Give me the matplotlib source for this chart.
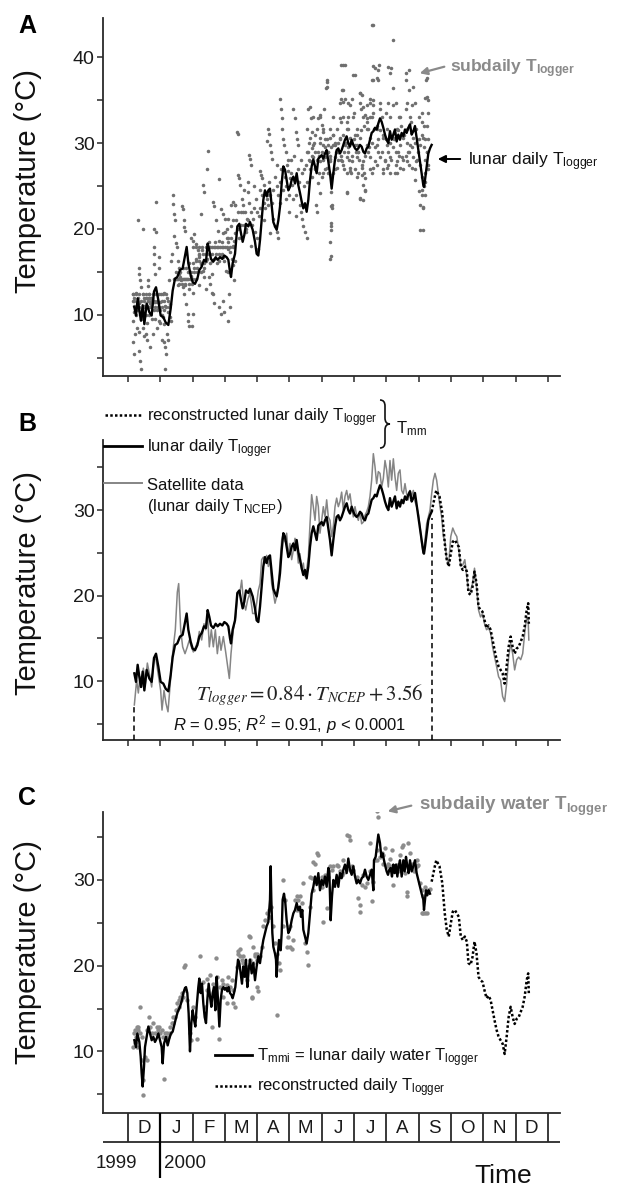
import matplotlib
matplotlib.use('Agg')
import matplotlib.pyplot as plt
from matplotlib.lines import Line2D
from matplotlib.path import Path
from matplotlib.patches import PathPatch, FancyArrowPatch

plt.rcParams['font.family'] = ['Liberation Sans', 'DejaVu Sans']
plt.rcParams['mathtext.fontset'] = 'custom'
plt.rcParams['mathtext.rm'] = 'Liberation Sans'
plt.rcParams['mathtext.it'] = 'Liberation Sans:italic'
plt.rcParams['mathtext.bf'] = 'Liberation Sans:bold'

# ---------------- data (x in months since 1 Dec 1999) ----------------
month_labels = ['D', 'J', 'F', 'M', 'A', 'M', 'J', 'J', 'A', 'S', 'O', 'N', 'D']
year_labels = ['1999', '2000']

logger_month = [0.196, 0.248, 0.299, 0.351, 0.402, 0.454, 0.506, 0.578, 0.660, 0.733, 0.805, 0.867,
                0.939, 1.011, 1.094, 1.166, 1.249, 1.321, 1.383, 1.455, 1.527, 1.610, 1.692, 1.765,
                1.816, 1.868, 1.940, 2.002, 2.074, 2.147, 2.208, 2.281, 2.353, 2.415, 2.466, 2.518,
                2.570, 2.642, 2.714, 2.776, 2.848, 2.921, 2.982, 3.055, 3.106, 3.158, 3.189, 3.240,
                3.313, 3.385, 3.447, 3.498, 3.550, 3.602, 3.653, 3.726, 3.777, 3.860, 3.932, 3.983,
                4.035, 4.087, 4.138, 4.190, 4.241, 4.293, 4.345, 4.396, 4.448, 4.500, 4.551, 4.603,
                4.655, 4.706, 4.758, 4.809, 4.861, 4.912, 4.964, 5.015, 5.067, 5.119, 5.170, 5.222,
                5.273, 5.325, 5.377, 5.428, 5.480, 5.531, 5.583, 5.635, 5.686, 5.738, 5.790, 5.841,
                5.893, 5.944, 5.996, 6.047, 6.099, 6.151, 6.202, 6.254, 6.305, 6.357, 6.409, 6.460,
                6.512, 6.563, 6.615, 6.667, 6.718, 6.770, 6.821, 6.873, 6.925, 6.976, 7.028, 7.079,
                7.131, 7.183, 7.234, 7.286, 7.337, 7.389, 7.441, 7.492, 7.544, 7.596, 7.647, 7.699,
                7.750, 7.802, 7.853, 7.905, 7.957, 8.008, 8.060, 8.111, 8.163, 8.215, 8.266, 8.318,
                8.369, 8.421, 8.473, 8.524, 8.576, 8.627, 8.679, 8.731, 8.782, 8.834, 8.885, 8.937,
                8.988, 9.040, 9.092, 9.143, 9.164, 9.195, 9.247, 9.298, 9.350, 9.401]
logger_temp = [10.9, 9.9, 11.9, 10.5, 9.3, 11.1, 8.9, 11.3, 10.3, 9.9, 12.7, 13.2,
               11.7, 9.9, 9.7, 9.1, 8.8, 10.7, 12.8, 14.2, 14.4, 15.2, 15.4, 16.9,
               17.9, 16.0, 14.6, 13.8, 13.6, 14.2, 15.2, 15.6, 16.4, 16.2, 18.3, 17.5,
               16.5, 16.2, 16.7, 16.4, 16.7, 16.5, 16.9, 16.7, 16.4, 15.0, 14.4, 16.0,
               17.1, 20.3, 20.6, 19.5, 18.5, 19.3, 20.6, 20.3, 20.8, 19.9, 18.5, 17.1,
               16.9, 18.7, 21.0, 23.4, 24.5, 23.8, 24.5, 24.7, 22.8, 20.8, 20.3, 19.9,
               21.0, 22.6, 25.3, 27.3, 26.9, 25.7, 24.5, 24.9, 25.7, 26.1, 25.3, 26.5,
               25.1, 24.2, 23.2, 22.4, 23.0, 22.0, 23.4, 25.7, 27.3, 28.1, 27.3, 26.5,
               28.2, 28.4, 28.6, 28.2, 28.8, 29.2, 27.9, 26.5, 24.7, 26.5, 28.1, 29.2,
               29.4, 28.8, 29.2, 29.8, 30.4, 30.8, 30.0, 29.6, 30.4, 29.8, 29.4, 29.2,
               29.4, 29.8, 29.6, 29.0, 28.8, 29.4, 29.6, 30.4, 31.2, 31.4, 31.8, 31.6,
               32.3, 32.9, 32.5, 31.8, 31.0, 30.4, 30.0, 31.4, 30.4, 31.0, 31.6, 30.2,
               31.0, 30.4, 31.2, 30.8, 31.6, 31.2, 31.8, 32.2, 31.0, 31.4, 32.0, 30.6,
               29.2, 27.9, 26.5, 25.1, 24.9, 25.7, 27.3, 28.8, 29.4, 29.8]

ncep_month = [0.196, 0.237, 0.268, 0.320, 0.372, 0.423, 0.475, 0.537, 0.599, 0.660, 0.733, 0.805,
              0.867, 0.939, 1.011, 1.053, 1.115, 1.176, 1.238, 1.300, 1.352, 1.404, 1.465, 1.527,
              1.569, 1.631, 1.692, 1.765, 1.837, 1.899, 1.961, 2.023, 2.095, 2.157, 2.208, 2.281,
              2.353, 2.405, 2.466, 2.518, 2.580, 2.642, 2.704, 2.766, 2.828, 2.879, 2.952, 3.024,
              3.086, 3.137, 3.189, 3.261, 3.333, 3.395, 3.467, 3.519, 3.571, 3.643, 3.705, 3.777,
              3.860, 3.932, 3.983, 4.035, 4.087, 4.138, 4.190, 4.241, 4.293, 4.345, 4.396, 4.448,
              4.500, 4.551, 4.603, 4.655, 4.706, 4.758, 4.809, 4.861, 4.912, 4.964, 5.015, 5.067,
              5.119, 5.170, 5.222, 5.273, 5.325, 5.377, 5.428, 5.480, 5.531, 5.583, 5.635, 5.686,
              5.738, 5.790, 5.841, 5.893, 5.944, 5.996, 6.047, 6.099, 6.151, 6.202, 6.254, 6.305,
              6.357, 6.409, 6.460, 6.512, 6.563, 6.615, 6.667, 6.718, 6.770, 6.821, 6.873, 6.925,
              6.976, 7.028, 7.079, 7.131, 7.183, 7.234, 7.286, 7.337, 7.389, 7.441, 7.492, 7.544,
              7.596, 7.647, 7.699, 7.750, 7.802, 7.853, 7.905, 7.957, 8.008, 8.060, 8.111, 8.163,
              8.215, 8.266, 8.318, 8.369, 8.421, 8.473, 8.524, 8.576, 8.627, 8.679, 8.731, 8.782,
              8.834, 8.885, 8.937, 8.988, 9.040, 9.092, 9.143, 9.195, 9.247, 9.298, 9.350, 9.401,
              9.453, 9.505, 9.556, 9.608, 9.659, 9.711, 9.763, 9.807, 9.869, 9.931, 9.993, 10.055,
              10.118, 10.180, 10.242, 10.304, 10.366, 10.428, 10.491, 10.541, 10.606, 10.666, 10.728, 10.791,
              10.853, 10.915, 10.977, 11.039, 11.101, 11.164, 11.226, 11.288, 11.350, 11.412, 11.474, 11.536,
              11.598, 11.661, 11.723, 11.785, 11.847, 11.909, 11.971, 12.034, 12.096, 12.158, 12.220, 12.282,
              12.344, 12.390, 12.410]
ncep_temp = [7.2, 8.9, 10.1, 8.6, 10.5, 9.3, 11.5, 9.7, 12.1, 10.9, 9.3, 12.7,
             12.5, 10.7, 8.9, 6.6, 8.9, 7.4, 6.4, 9.3, 12.1, 14.0, 16.0, 20.4,
             21.4, 16.0, 14.0, 13.2, 14.0, 14.8, 14.0, 13.4, 14.0, 14.6, 15.8, 14.8,
             16.7, 16.0, 17.7, 14.0, 16.0, 14.0, 16.0, 13.2, 15.2, 13.6, 15.2, 13.4,
             11.7, 10.3, 13.2, 16.0, 17.5, 20.3, 20.4, 21.8, 19.5, 18.3, 19.5, 20.3,
             17.9, 17.9, 19.1, 20.6, 21.4, 24.2, 24.5, 23.8, 24.7, 23.4, 24.2, 21.4,
             20.3, 19.1, 19.9, 21.4, 23.8, 26.5, 27.3, 26.3, 27.3, 24.5, 26.1, 24.2,
             25.3, 26.7, 26.1, 23.8, 24.9, 23.0, 23.8, 22.2, 23.0, 24.5, 28.4, 31.8,
             30.4, 28.8, 31.6, 30.4, 27.3, 28.8, 30.4, 29.2, 31.2, 29.2, 28.8, 26.9,
             28.1, 30.4, 31.4, 30.4, 31.0, 32.1, 30.0, 31.6, 32.3, 31.2, 31.9, 30.4,
             29.2, 30.4, 29.4, 28.8, 29.8, 28.4, 28.6, 29.4, 29.8, 30.4, 31.6, 33.5,
             36.6, 35.1, 33.1, 34.5, 34.3, 32.7, 33.7, 35.8, 34.7, 32.7, 35.8, 33.5,
             36.0, 33.9, 32.3, 34.3, 34.7, 32.3, 31.9, 33.1, 31.9, 31.2, 32.3, 31.6,
             32.3, 31.0, 30.4, 29.6, 28.1, 26.1, 24.9, 26.5, 28.4, 29.2, 30.0, 31.9,
             33.5, 34.3, 33.5, 31.9, 30.4, 29.2, 26.9, 26.5, 24.2, 23.8, 26.9, 27.9,
             27.3, 26.9, 25.3, 23.4, 23.6, 24.2, 22.2, 20.6, 20.6, 21.4, 23.2, 21.0,
             18.3, 17.5, 17.9, 16.7, 16.0, 16.2, 15.6, 14.0, 12.8, 11.7, 10.5, 10.1,
             8.2, 7.6, 9.7, 12.8, 14.4, 13.2, 11.3, 12.5, 12.8, 12.5, 13.2, 15.6,
             17.5, 17.1, 14.8]

recon_month = [9.401, 9.500, 9.545, 9.644, 9.731, 9.807, 9.869, 9.931, 9.993, 10.055, 10.118, 10.180,
               10.242, 10.304, 10.366, 10.428, 10.491, 10.541, 10.606, 10.666, 10.728, 10.791, 10.853, 10.915,
               10.977, 11.039, 11.101, 11.164, 11.226, 11.288, 11.350, 11.412, 11.474, 11.536, 11.598, 11.661,
               11.723, 11.785, 11.847, 11.909, 11.971, 12.034, 12.096, 12.158, 12.220, 12.282, 12.344, 12.390,
               12.410]
recon_temp = [29.8, 31.6, 32.3, 31.6, 29.6, 26.1, 24.2, 23.4, 24.9, 26.3, 26.5, 26.1,
              25.7, 23.4, 23.0, 23.4, 22.8, 20.3, 20.1, 21.0, 22.8, 21.4, 18.7, 18.3,
              18.1, 17.1, 16.2, 16.5, 16.0, 14.8, 13.6, 12.5, 11.7, 11.3, 10.9, 9.7,
              11.7, 14.0, 15.2, 14.0, 13.2, 13.8, 14.0, 14.6, 15.2, 16.4, 18.3, 19.1,
              16.7]

water_month = [0.196, 0.248, 0.289, 0.351, 0.392, 0.423, 0.454, 0.495, 0.526, 0.578, 0.630, 0.681,
               0.733, 0.784, 0.836, 0.888, 0.939, 0.991, 1.042, 1.073, 1.115, 1.176, 1.228, 1.280,
               1.331, 1.383, 1.434, 1.486, 1.538, 1.610, 1.672, 1.713, 1.765, 1.796, 1.837, 1.878,
               1.899, 1.919, 1.961, 2.002, 2.043, 2.085, 2.126, 2.177, 2.208, 2.250, 2.291, 2.332,
               2.374, 2.415, 2.456, 2.497, 2.539, 2.580, 2.621, 2.663, 2.704, 2.745, 2.786, 2.828,
               2.869, 2.910, 2.952, 2.993, 3.034, 3.075, 3.117, 3.158, 3.199, 3.240, 3.282, 3.323,
               3.364, 3.406, 3.447, 3.488, 3.529, 3.571, 3.612, 3.653, 3.694, 3.736, 3.777, 3.829,
               3.880, 3.932, 3.983, 4.035, 4.087, 4.138, 4.190, 4.241, 4.293, 4.345, 4.396, 4.417,
               4.438, 4.469, 4.500, 4.551, 4.582, 4.603, 4.634, 4.675, 4.727, 4.758, 4.788, 4.830,
               4.871, 4.912, 4.964, 5.015, 5.067, 5.119, 5.170, 5.222, 5.273, 5.325, 5.356, 5.397,
               5.428, 5.480, 5.531, 5.583, 5.635, 5.686, 5.738, 5.790, 5.841, 5.893, 5.944, 5.996,
               6.047, 6.099, 6.151, 6.202, 6.233, 6.274, 6.316, 6.357, 6.409, 6.460, 6.512, 6.563,
               6.615, 6.667, 6.718, 6.770, 6.821, 6.873, 6.925, 6.976, 7.028, 7.079, 7.131, 7.183,
               7.234, 7.286, 7.337, 7.389, 7.441, 7.492, 7.544, 7.596, 7.616, 7.668, 7.719, 7.750,
               7.802, 7.843, 7.884, 7.926, 7.967, 8.008, 8.050, 8.091, 8.132, 8.173, 8.215, 8.256,
               8.297, 8.339, 8.380, 8.421, 8.473, 8.524, 8.566, 8.607, 8.648, 8.689, 8.731, 8.782,
               8.834, 8.885, 8.937, 8.988, 9.040, 9.092, 9.143, 9.164, 9.195, 9.226, 9.267, 9.308,
               9.350]
water_temp = [11.3, 10.5, 12.1, 11.1, 9.4, 7.4, 5.9, 8.2, 10.5, 11.7, 12.9, 12.1,
              11.3, 11.7, 11.1, 11.5, 12.1, 11.3, 10.5, 8.6, 10.9, 11.7, 10.7, 11.5,
              12.1, 12.3, 13.1, 13.9, 14.6, 15.2, 16.0, 16.8, 17.4, 17.5, 16.8, 14.4,
              12.1, 10.0, 13.3, 14.8, 13.7, 12.9, 15.2, 17.5, 18.5, 16.8, 17.9, 15.6,
              14.0, 13.3, 16.0, 17.9, 16.4, 15.2, 16.8, 17.5, 14.8, 18.7, 16.0, 12.9,
              16.0, 17.2, 17.5, 17.2, 17.4, 17.0, 17.5, 16.8, 16.6, 16.2, 16.8, 17.5,
              19.1, 20.7, 20.3, 19.1, 17.9, 19.9, 18.7, 20.7, 17.5, 19.5, 20.7, 19.1,
              20.3, 18.3, 19.9, 21.1, 20.3, 21.8, 23.0, 23.8, 24.6, 25.1, 27.7, 31.6,
              27.7, 23.8, 22.2, 21.4, 20.7, 18.7, 21.1, 23.0, 21.8, 23.8, 27.7, 28.4,
              27.3, 25.3, 23.8, 24.2, 25.3, 26.1, 26.5, 27.3, 26.5, 26.9, 25.7, 26.5,
              24.2, 23.4, 22.6, 23.8, 26.1, 28.4, 29.2, 30.4, 29.4, 30.8, 28.8, 30.0,
              29.4, 30.4, 29.2, 31.4, 31.0, 25.3, 28.1, 30.0, 29.2, 30.6, 29.2, 30.8,
              30.2, 31.2, 31.8, 30.8, 32.5, 31.2, 30.6, 31.6, 30.4, 29.6, 30.0, 29.6,
              30.2, 30.4, 31.2, 30.4, 30.0, 30.6, 31.2, 28.8, 32.3, 32.7, 34.3, 35.3,
              34.3, 32.7, 33.1, 32.3, 31.6, 31.0, 30.6, 31.2, 31.4, 30.4, 31.8, 30.8,
              31.8, 30.4, 31.6, 32.3, 30.4, 32.3, 31.0, 32.7, 31.6, 30.8, 32.3, 31.0,
              31.6, 32.3, 30.8, 30.0, 29.2, 28.4, 27.7, 26.5, 27.7, 28.8, 28.2, 28.8,
              28.4]

subdaily_air = [
    (0.14, 12.4), (0.16, 11.6), (0.18, 11.0), (0.20, 10.3), (0.14, 9.3), (0.16, 6.8), (0.18, 5.4),
    (0.23, 7.7), (0.27, 8.5), (0.30, 21.0), (0.33, 15.5), (0.35, 14.7), (0.38, 14.0), (0.30, 12.0),
    (0.35, 11.4), (0.40, 13.2), (0.33, 5.8), (0.37, 4.6), (0.40, 3.7), (0.45, 20.0), (0.47, 12.4),
    (0.51, 11.6), (0.54, 10.9), (0.56, 7.7), (0.59, 7.0), (0.61, 14.0), (0.63, 13.4), (0.66, 12.4),
    (0.68, 11.4), (0.71, 10.9), (0.68, 6.2), (0.76, 7.7), (0.79, 17.9), (0.82, 17.1), (0.82, 15.9),
    (0.85, 14.7), (0.87, 12.4), (0.89, 11.6), (0.92, 10.9), (0.95, 9.3), (0.87, 23.1), (0.82, 20.0),
    (0.87, 19.6), (0.97, 16.7), (0.97, 15.5), (1.02, 12.4), (1.05, 11.6), (1.07, 9.7), (1.10, 8.9),
    (1.12, 6.8), (1.16, 6.2), (1.18, 5.4), (1.14, 3.7), (1.20, 7.7), (1.23, 7.0), (1.28, 10.9),
    (1.30, 9.7), (1.33, 9.3), (1.28, 14.0), (1.33, 16.3), (1.36, 17.1),
    (0.50, 12.0), (0.55, 12.0), (0.60, 12.0), (0.65, 12.0), (0.70, 12.0), (0.75, 12.0), (0.80, 11.5),
    (0.85, 11.5), (0.90, 11.5), (0.95, 11.5), (1.00, 11.5), (0.50, 11.0), (0.60, 11.0), (0.70, 11.0),
    (0.80, 10.5), (0.90, 10.5), (1.00, 10.5), (1.10, 10.5), (0.55, 10.0), (0.65, 10.0), (0.75, 9.5),
    (0.85, 9.5), (1.00, 9.0), (1.05, 10.0), (1.15, 11.0), (1.20, 12.0), (1.10, 12.5), (0.25, 12.5),
    (0.20, 12.0), (0.30, 10.5), (0.25, 10.0), (0.40, 9.5), (0.45, 8.5), (0.50, 7.5), (0.35, 8.0),
    (0.60, 9.0), (0.90, 8.5), (1.05, 7.0),
    (0.14, 12.4), (0.25, 12.4), (0.35, 12.4), (0.45, 12.4), (0.56, 12.4), (0.66, 12.4), (0.76, 12.4),
    (0.97, 12.4), (1.07, 12.4), (1.18, 12.4), (0.19, 11.6), (0.30, 11.6), (0.40, 11.6), (0.61, 11.6),
    (0.71, 11.6), (0.81, 11.6), (1.12, 11.6), (1.23, 11.6), (0.25, 10.9), (0.35, 10.9), (0.45, 10.9),
    (0.65, 10.9), (0.85, 10.9), (0.95, 10.9), (1.05, 10.9), (1.18, 10.9), (1.23, 10.3), (1.30, 11.2),
    (1.43, 14.2), (1.52, 14.2), (1.62, 14.2), (1.72, 14.2), (1.82, 14.2), (1.92, 14.2), (2.02, 14.2),
    (2.11, 14.2), (1.58, 13.6), (1.68, 13.6), (1.78, 13.6), (1.88, 13.6), (1.98, 13.6), (1.85, 15.0),
    (1.95, 15.0), (2.05, 15.5), (2.15, 15.0), (2.25, 15.0), (2.35, 15.5), (2.00, 17.9), (2.10, 17.9),
    (2.20, 17.9), (2.30, 17.9), (2.45, 17.9), (2.55, 17.9), (2.65, 17.9), (2.75, 17.9), (2.85, 17.9),
    (2.95, 17.9), (3.05, 17.9), (3.15, 17.9), (3.24, 17.9), (2.21, 17.1), (2.31, 17.1), (2.41, 17.1),
    (2.51, 17.1), (2.61, 17.1), (2.71, 17.1), (2.81, 17.1), (2.91, 17.1), (2.11, 16.3), (2.21, 16.3),
    (2.41, 16.3), (2.61, 16.3), (2.81, 16.3), (3.20, 22.8), (3.30, 22.8), (3.40, 22.0), (3.50, 22.0),
    (3.10, 21.2), (3.20, 20.4), (3.00, 19.6), (3.10, 18.5),
    (1.38, 23.9), (1.40, 22.9), (1.43, 21.8), (1.47, 21.0), (1.43, 19.2), (1.49, 18.4), (1.51, 17.9),
    (1.54, 16.3), (1.57, 15.5), (1.59, 14.7), (1.62, 14.4), (1.64, 14.0), (1.67, 22.7), (1.69, 22.3),
    (1.72, 21.0), (1.74, 20.2), (1.78, 19.8), (1.69, 13.2), (1.74, 12.4), (1.80, 11.2), (1.85, 10.1),
    (1.85, 9.3), (1.90, 8.7), (1.98, 8.7), (2.00, 10.1), (1.95, 19.0), (2.00, 18.6), (2.05, 19.4),
    (2.11, 18.2), (2.16, 17.5), (2.21, 16.7), (2.26, 15.9), (2.31, 15.1), (2.36, 14.4), (2.26, 21.8),
    (2.31, 25.1), (2.36, 24.3), (2.44, 27.0), (2.47, 29.1), (2.50, 14.4), (2.54, 13.6), (2.60, 14.7),
    (2.62, 12.4), (2.67, 11.4), (2.62, 23.1), (2.67, 22.7), (2.72, 21.0), (2.78, 19.8), (2.83, 25.8),
    (2.83, 18.6), (2.88, 22.3), (2.93, 21.8), (2.93, 16.7), (2.98, 16.3), (3.03, 15.1), (2.83, 10.9),
    (2.88, 10.1), (2.93, 11.6), (2.98, 10.3), (3.09, 9.3), (3.14, 12.4), (3.16, 10.9), (3.24, 23.1),
    (3.24, 21.0), (3.29, 18.6), (3.32, 16.3), (3.29, 14.0),
    (1.45, 14.2), (1.50, 14.2), (1.55, 14.2), (1.60, 14.2), (1.65, 14.2), (1.70, 14.2), (1.75, 14.2),
    (1.80, 14.2), (1.85, 14.2), (1.50, 15.0), (1.60, 15.0), (1.70, 15.5), (1.80, 15.5), (1.90, 16.0),
    (2.00, 16.0), (1.55, 13.5), (1.75, 13.5), (1.95, 14.5), (2.05, 15.0), (2.10, 16.5), (2.20, 17.0),
    (2.30, 17.5), (2.40, 17.9), (2.50, 17.9), (2.60, 17.9), (2.70, 17.9), (2.80, 17.9), (2.90, 17.9),
    (3.00, 17.9), (2.45, 16.5), (2.55, 16.0), (2.65, 16.5), (2.75, 16.0), (2.85, 17.0), (2.35, 16.0),
    (2.15, 15.5), (2.25, 16.0), (2.50, 18.5), (2.70, 18.5), (2.90, 18.5), (2.95, 19.5), (3.05, 20.0),
    (3.10, 19.0), (2.40, 13.0), (2.60, 12.5), (2.20, 13.5), (2.00, 12.5), (1.90, 13.0),
    (3.00, 21.2), (3.05, 18.9), (3.11, 17.7), (3.16, 17.3), (3.21, 16.5), (3.26, 15.8), (3.11, 15.0),
    (3.31, 22.8), (3.36, 31.3), (3.40, 31.1), (3.42, 26.3), (3.44, 25.9), (3.47, 25.1), (3.52, 23.5),
    (3.57, 22.8), (3.62, 22.0), (3.67, 21.2), (3.64, 19.6), (3.70, 24.3), (3.74, 28.6), (3.77, 28.2),
    (3.81, 27.4), (3.88, 21.2), (3.93, 19.6), (3.98, 18.9), (4.04, 17.7), (4.09, 26.7), (4.12, 26.3),
    (4.16, 25.9), (4.22, 25.1), (4.24, 24.3), (4.29, 23.5), (4.32, 22.8), (4.34, 31.7), (4.37, 31.1),
    (4.40, 29.8), (4.42, 29.0), (4.29, 30.2), (4.45, 28.2), (4.50, 21.2), (4.55, 20.4), (4.60, 19.6),
    (4.65, 18.9), (4.71, 35.2), (4.74, 34.0), (4.76, 32.9), (4.78, 31.7), (4.81, 30.5), (4.83, 29.8),
    (4.88, 29.0), (4.91, 27.4), (4.96, 26.7), (5.01, 25.9), (5.07, 25.1), (5.12, 34.0), (5.17, 32.9),
    (5.19, 31.3), (5.22, 30.5), (5.27, 29.8), (5.32, 22.8), (5.35, 22.0), (5.38, 21.2), (5.43, 20.4),
    (5.48, 19.6), (5.53, 18.9), (5.58, 34.0), (5.63, 34.2), (5.66, 32.9), (5.69, 31.3), (5.71, 29.4),
    (5.79, 27.0), (5.81, 22.8), (5.84, 22.0), (5.89, 32.9), (5.95, 33.3), (6.00, 32.1), (6.05, 31.3),
    (6.08, 34.0), (6.10, 30.5), (6.15, 37.4), (6.15, 36.6), (6.20, 29.8), (6.25, 28.2), (6.28, 26.3),
    (6.30, 24.3), (6.32, 22.8), (6.28, 20.4), (6.26, 16.5), (6.36, 30.9), (6.41, 29.8), (6.51, 29.0),
    (6.56, 32.9), (6.59, 35.2), (6.61, 39.1), (6.63, 36.2), (6.66, 34.8), (6.72, 35.2), (6.77, 32.5),
    (6.82, 31.7), (6.87, 34.4), (6.93, 35.2), (6.98, 37.9), (7.03, 30.9), (7.08, 29.8), (7.13, 29.0),
    (7.18, 35.8), (7.23, 35.6), (7.29, 34.2), (7.34, 33.3), (7.39, 32.9), (7.44, 31.7), (7.50, 35.2),
    (7.55, 43.8), (7.55, 37.4), (7.60, 39.0), (7.60, 34.4), (7.62, 31.7), (7.18, 23.5), (7.23, 26.3),
    (7.29, 25.1), (7.34, 25.9), (7.03, 27.0), (6.87, 26.7), (6.77, 24.3), (6.66, 27.4), (6.61, 28.0),
    (3.20, 19.0), (3.30, 19.5), (3.40, 20.0), (3.50, 20.5), (3.60, 20.5), (3.70, 21.0), (3.80, 22.0),
    (3.90, 22.5), (4.00, 22.0), (4.10, 22.5), (4.20, 23.0), (4.30, 24.0), (4.40, 24.0), (4.50, 24.5),
    (4.60, 25.0), (4.70, 25.5), (4.80, 24.5), (4.90, 25.0), (5.00, 24.0), (5.10, 23.5), (5.20, 24.0),
    (5.30, 25.5), (5.40, 26.5), (5.50, 27.5), (5.60, 28.0), (5.70, 28.5), (5.80, 29.0), (5.90, 28.5),
    (6.00, 29.0), (6.10, 29.5), (6.20, 29.0), (6.30, 29.5), (6.40, 30.0), (6.50, 30.0), (3.25, 18.0),
    (3.45, 19.0), (3.65, 20.0), (3.85, 20.5), (4.05, 21.5), (4.25, 22.5), (4.45, 23.0), (4.65, 24.0),
    (4.85, 26.0), (5.05, 26.5), (5.25, 27.0), (5.45, 27.0), (5.65, 27.0), (5.85, 28.0), (6.05, 28.0),
    (6.25, 28.5), (6.45, 29.0), (3.35, 21.0), (3.55, 22.0), (3.75, 23.0), (3.95, 23.5), (4.15, 24.0),
    (4.35, 25.5), (4.55, 26.0), (4.75, 27.0), (4.95, 28.0), (5.15, 28.5), (5.35, 28.0), (5.55, 29.0),
    (5.75, 30.0), (5.95, 30.0), (6.15, 30.5), (6.35, 31.0), (5.00, 22.0), (5.20, 21.5), (4.40, 19.5),
    (3.80, 18.0), (6.00, 26.0), (6.20, 26.5), (6.40, 27.0),
    (3.60, 24.5), (3.70, 25.5), (3.90, 25.0), (4.10, 24.5), (4.20, 21.0), (4.60, 27.5), (4.70, 23.0),
    (4.90, 23.5), (5.05, 28.0), (5.25, 25.5), (5.45, 25.0), (5.55, 25.5), (5.70, 26.0), (5.90, 26.5),
    (6.10, 27.0), (5.60, 30.0), (5.80, 31.0),
    (6.71, 39.1), (7.02, 38.0), (7.58, 43.8), (7.71, 37.6), (7.77, 39.1), (7.74, 38.5), (8.15, 38.8),
    (8.21, 42.0), (8.71, 38.5), (8.83, 36.6), (9.27, 35.4), (9.27, 37.6), (9.12, 19.9), (9.14, 22.6),
    (9.09, 24.0), (7.29, 23.4), (7.33, 24.5), (8.27, 26.5), (8.89, 25.7), (6.28, 19.9), (6.28, 16.8),
    (6.30, 22.7),
    (6.56, 34.7), (6.82, 34.7), (7.18, 34.7), (7.49, 34.7), (7.80, 34.7), (8.06, 34.7), (8.31, 34.7),
    (8.63, 34.7), (8.88, 34.7), (5.74, 33.1), (5.94, 33.1), (6.36, 33.1), (6.67, 33.1), (6.98, 33.1),
    (7.29, 33.1), (7.54, 33.1), (7.85, 33.1), (8.11, 33.1), (8.42, 33.1), (8.73, 33.1), (5.53, 31.6),
    (5.84, 31.6), (6.04, 31.6), (6.25, 31.6), (6.46, 31.6), (6.77, 31.6), (7.08, 31.6), (7.39, 31.6),
    (7.70, 31.6), (8.01, 31.6), (8.32, 31.6), (8.63, 31.6), (8.93, 31.6), (5.64, 30.6), (5.94, 30.6),
    (6.25, 30.6), (6.56, 30.6), (6.87, 30.6), (7.18, 30.6), (7.49, 30.6), (7.90, 30.6), (8.21, 30.6),
    (8.52, 30.6), (8.83, 30.6), (9.14, 30.6), (5.74, 29.8), (6.05, 29.8), (6.36, 29.8), (6.72, 29.8),
    (7.03, 29.8), (7.39, 29.8), (7.70, 29.8), (8.01, 29.8), (8.42, 29.8), (8.73, 29.8), (9.04, 29.8),
    (5.58, 29.0), (5.89, 29.0), (6.20, 29.0), (6.51, 29.0), (6.82, 29.0), (7.13, 29.0), (7.44, 29.0),
    (7.75, 29.0), (8.06, 29.0), (8.37, 29.0), (8.68, 29.0), (8.98, 29.0), (5.74, 28.4), (6.10, 28.4),
    (6.41, 28.4), (6.77, 28.4), (7.08, 28.4), (7.49, 28.4), (7.80, 28.4), (8.11, 28.4), (8.47, 28.4),
    (8.83, 28.4), (5.63, 27.9), (5.94, 27.9), (6.25, 27.9), (6.62, 27.9), (6.92, 27.9), (7.29, 27.9),
    (7.65, 27.9), (7.95, 27.9), (8.32, 27.9), (8.63, 27.9), (8.93, 27.9), (5.79, 27.1), (6.15, 27.1),
    (6.46, 27.1), (6.87, 27.1), (7.23, 27.1), (7.59, 27.1), (8.01, 27.1), (8.42, 27.1), (8.78, 27.1),
    (6.05, 26.5), (6.36, 26.5), (6.77, 26.5), (7.13, 26.5), (7.54, 26.5), (7.90, 26.5), (8.32, 26.5),
    (6.65, 39.1), (7.65, 38.8), (7.60, 37.4), (7.75, 37.4), (8.06, 38.9), (8.11, 38.2), (8.62, 38.2),
    (8.61, 37.4), (6.15, 37.1), (6.13, 36.4), (6.67, 36.2), (7.18, 35.8), (8.22, 36.4), (8.69, 36.2),
    (9.20, 35.3), (9.23, 37.4), (9.00, 24.4), (9.04, 22.8), (9.12, 22.4), (9.04, 19.9), (7.18, 23.6),
    (7.34, 24.4), (6.77, 24.2), (6.31, 22.4), (6.27, 20.7), (6.25, 18.5), (5.89, 25.3), (5.94, 24.2),
    (9.10, 33.5), (9.15, 32.0), (9.20, 30.5), (9.25, 29.0), (9.30, 27.5), (9.20, 25.5), (9.10, 24.5),
    (6.50, 28.0), (6.60, 28.5), (6.70, 29.0), (6.80, 29.5), (6.90, 30.0), (7.00, 30.5), (7.10, 31.0),
    (7.20, 31.5), (7.30, 32.0), (7.40, 32.5), (7.50, 33.0), (7.60, 33.5), (7.70, 32.0), (7.80, 31.5),
    (7.90, 31.0), (8.00, 30.5), (8.10, 30.0), (8.20, 29.5), (8.30, 29.0), (8.40, 28.5), (8.50, 28.0),
    (8.60, 28.5), (8.70, 29.0), (8.80, 29.5), (8.90, 30.0), (9.00, 30.5), (9.10, 31.0), (9.20, 28.0),
    (9.25, 29.0), (6.55, 30.5), (6.65, 31.0), (6.75, 30.0), (6.85, 28.0), (6.95, 28.5), (7.05, 29.0),
    (7.15, 28.0), (7.25, 27.5), (7.35, 28.5), (7.45, 29.5), (7.55, 30.0), (7.65, 29.5), (7.75, 30.5),
    (7.85, 29.0), (7.95, 28.0), (8.05, 27.5), (8.15, 28.0), (8.25, 30.5), (8.35, 31.5), (8.45, 32.0),
    (8.55, 31.0), (8.65, 30.0), (8.75, 32.5), (8.85, 31.5), (8.95, 28.0), (9.05, 27.5), (9.15, 29.5),
    (9.30, 27.0), (9.30, 30.5), (9.25, 32.0), (9.30, 33.5), (9.30, 35.0), (6.60, 32.5), (6.80, 33.0),
    (7.00, 33.5), (7.20, 34.0), (7.40, 34.5), (7.60, 35.0), (7.80, 34.0), (8.00, 33.5), (8.20, 34.5),
    (8.40, 33.0), (8.60, 34.0), (8.80, 34.5), (9.00, 33.0), (9.10, 32.5), (6.70, 27.0), (6.90, 26.5),
    (7.10, 26.0), (7.30, 26.5), (7.50, 27.0), (7.70, 27.5), (7.90, 27.0), (8.10, 26.5), (8.30, 27.5),
    (8.50, 27.0), (8.70, 27.5), (8.90, 27.0), (9.10, 26.0), (9.15, 25.0), (9.20, 24.0), (9.20, 26.5),
]

subdaily_water = [
    (0.165, 10.5), (0.217, 12.5), (0.268, 12.9), (0.372, 15.2), (0.423, 9.0), (0.454, 4.9), (0.475, 6.7),
    (0.526, 9.4), (0.578, 9.0), (0.661, 14.0), (0.784, 13.3), (0.836, 12.1), (0.97, 12.9), (1.04, 12.5),
    (1.11, 6.8), (1.20, 12.1), (1.25, 11.7), (1.30, 12.9), (1.35, 13.3), (1.40, 14.0), (1.49, 14.8),
    (1.53, 15.6), (1.57, 16.0), (1.61, 16.4), (1.66, 16.8), (1.73, 19.9), (1.77, 20.1), (1.84, 16.0),
    (1.92, 12.1), (1.94, 11.3), (2.07, 14.0), (2.13, 11.5), (2.23, 21.1), (2.33, 18.1), (2.38, 15.2),
    (2.44, 18.5), (2.54, 18.9), (2.59, 12.9), (2.72, 20.9), (2.77, 18.7), (2.83, 11.5), (2.90, 18.3),
    (2.95, 16.4), (3.05, 15.6), (3.11, 18.7), (3.21, 18.3), (3.26, 15.6), (3.31, 15.2), (3.42, 21.7),
    (3.47, 21.9), (3.57, 21.1), (3.67, 18.3), (3.76, 23.5), (3.83, 16.4), (3.93, 21.1), (3.98, 21.4),
    (0.20, 12.1), (0.25, 11.7), (0.30, 12.5), (0.22, 11.0), (0.28, 10.5),
    (0.32, 12.9), (0.37, 12.1), (0.42, 11.7), (0.58, 12.5), (0.68, 12.9), (0.73, 12.1), (0.89, 12.9),
    (0.94, 12.5), (0.99, 12.1), (1.09, 11.7), (1.15, 12.1), (1.30, 12.1), (1.40, 13.3), (1.46, 14.0),
    (1.51, 14.8), (1.59, 15.2), (1.65, 16.0), (1.71, 16.4), (1.76, 17.2), (2.02, 15.2), (2.23, 17.5),
    (2.44, 17.2), (2.64, 17.9), (2.85, 17.5), (2.95, 17.9), (3.05, 17.7), (3.16, 17.5), (3.26, 17.2),
    (3.36, 19.9), (3.42, 21.4), (3.47, 21.1), (3.52, 20.7), (3.57, 20.3), (3.67, 19.9), (3.78, 20.7),
    (3.88, 20.3), (3.98, 20.7), (4.04, 21.1),
    (3.78, 23.4), (3.88, 22.2), (3.93, 21.4), (3.98, 17.5), (4.04, 17.0), (3.83, 16.2), (4.19, 24.6),
    (4.24, 25.3), (4.29, 26.1), (4.35, 26.5), (4.40, 25.7), (4.50, 24.6), (4.55, 22.6), (4.60, 21.4),
    (4.60, 14.2), (4.66, 20.3), (4.71, 19.5), (4.79, 30.0), (4.81, 24.6), (4.86, 27.7), (4.91, 22.2),
    (4.96, 23.4), (5.02, 22.2), (5.07, 22.0), (5.12, 23.0), (5.17, 27.7), (5.22, 28.1), (5.27, 27.7),
    (5.33, 28.1), (5.38, 27.3), (5.43, 29.6), (5.48, 22.6), (5.53, 21.6), (5.58, 20.1), (5.64, 30.4),
    (5.69, 30.2), (5.74, 32.1), (5.79, 31.9), (5.84, 33.1), (5.89, 32.9), (5.94, 29.6), (6.00, 29.2),
    (6.05, 25.1), (6.15, 26.7), (6.25, 31.6), (6.31, 31.2), (6.36, 31.6), (6.46, 31.8), (6.51, 31.6),
    (6.56, 31.0), (6.62, 30.6), (6.67, 32.3), (6.77, 35.3), (6.83, 35.1), (6.87, 34.7), (6.93, 31.6),
    (6.98, 31.2), (7.08, 30.0), (7.13, 27.9), (7.18, 27.1), (7.18, 26.3), (7.23, 29.4), (7.34, 29.2),
    (7.39, 29.6), (7.49, 34.3), (7.54, 27.5), (7.60, 29.8), (7.65, 32.3), (7.70, 38.0), (7.75, 37.4),
    (7.70, 33.5), (7.80, 32.7), (7.85, 33.1), (7.90, 32.9), (7.95, 33.7), (8.01, 31.6), (8.06, 31.9),
    (8.11, 32.5), (8.16, 33.5), (8.21, 29.4), (8.27, 31.4), (8.32, 31.6), (8.37, 31.0), (8.42, 32.9),
    (8.47, 33.9), (8.52, 34.1), (8.57, 30.8), (8.63, 28.6), (8.63, 28.1), (8.68, 34.3), (8.73, 33.1),
    (8.78, 31.9), (8.84, 31.0), (8.89, 31.4), (8.94, 32.3), (8.99, 31.8), (9.04, 29.6), (9.09, 28.8),
    (9.14, 28.1), (9.09, 26.1), (9.14, 26.1), (9.19, 26.1), (9.25, 26.1), (9.30, 28.8), (9.35, 29.0),
    (9.19, 29.2),
    (4.09, 21.1), (4.14, 22.2), (4.35, 25.7), (4.42, 26.9), (5.02, 24.6), (5.22, 26.5), (5.64, 26.9),
    (5.74, 28.8), (5.84, 30.0), (6.00, 30.4), (6.10, 30.6), (6.20, 30.4), (6.46, 30.4), (6.67, 30.8),
    (6.87, 31.2), (7.08, 30.4), (7.28, 30.6), (7.49, 31.0), (7.70, 32.3), (7.90, 31.9), (8.11, 31.6),
    (8.32, 31.8), (8.52, 31.8), (8.73, 31.6), (8.94, 31.6),
]

# ---------------- layout helpers (pixel based) ----------------
W, H = 629, 1188
fig = plt.figure(figsize=(W / 100, H / 100), dpi=100)


def rect(l, t, r, b):
    return [l / W, 1 - b / H, (r - l) / W, (b - t) / H]


def fx(x):
    return x / W


def fy(y):
    return 1 - y / H


XLIM = (-0.774, 13.375)
SPINE = '#2a2a2a'
GRAY_LINE = '#858585'
DOT_A = '#6f6f6f'
DOT_C = '#8c8c8c'
ANNO_GRAY = '#8a8a8a'


def setup(ax, ylim, yt_major, yt_minor, xticks=True):
    ax.set_xlim(*XLIM)
    ax.set_ylim(*ylim)
    for s in ['top', 'right']:
        ax.spines[s].set_visible(False)
    for s in ['left', 'bottom']:
        ax.spines[s].set_linewidth(1.3)
        ax.spines[s].set_color(SPINE)
    ax.set_yticks(yt_major)
    ax.set_yticks(yt_minor, minor=True)
    ax.tick_params(axis='y', which='both', direction='out', length=4.5, width=1.1,
                   color=SPINE, labelsize=14, pad=1.5, labelcolor='#1a1a1a')
    if xticks:
        ax.set_xticks(range(14))
        ax.set_xticklabels([])
        ax.tick_params(axis='x', which='both', direction='out', length=4.5, width=1.1, color=SPINE)
    else:
        ax.set_xticks([])
    ax.set_facecolor('none')


# ---------------- Panel A ----------------
axA = fig.add_axes(rect(103, 18, 560, 376))
setup(axA, (2.85, 44.6), [10, 20, 30, 40], [5, 15, 25, 35])
axA.scatter([p[0] for p in subdaily_air], [p[1] for p in subdaily_air], s=6.5, color=DOT_A,
            linewidths=0, zorder=2)
axA.plot(logger_month, logger_temp, color='black', lw=1.7, zorder=3)

# ---------------- Panel B ----------------
axB = fig.add_axes(rect(103, 440, 560, 740))
ylimB = (3.1, 38.2)
setup(axB, ylimB, [10, 20, 30], [5, 15, 25, 35])
axB.plot(ncep_month, ncep_temp, color=GRAY_LINE, lw=1.1, zorder=2)
axB.plot(logger_month, logger_temp, color='black', lw=1.7, zorder=3)
axB.plot(recon_month, recon_temp, color='black', lw=1.8, ls=(0, (1, 0.9)), zorder=4)
axB.plot([logger_month[0]] * 2, [ylimB[0], ncep_temp[0]], color='black', lw=1.1,
         ls=(0, (3.5, 2.5)), zorder=3, clip_on=False)
axB.plot([logger_month[-1]] * 2, [ylimB[0], logger_temp[-1] - 0.7], color='black', lw=1.1,
         ls=(0, (3.5, 2.5)), zorder=3, clip_on=False)

# ---------------- Panel C ----------------
axC = fig.add_axes(rect(103, 812, 560, 1113))
setup(axC, (2.81, 37.93), [10, 20, 30], [5, 15, 25, 35], xticks=False)
axC.scatter([p[0] for p in subdaily_water], [p[1] for p in subdaily_water], s=10, color=DOT_C,
            linewidths=0, zorder=2)
axC.plot(water_month, water_temp, color='black', lw=1.7, zorder=3)
axC.plot(recon_month, recon_temp, color='black', lw=1.8, ls=(0, (1, 0.9)), zorder=4)

# ---------------- month row ----------------
axR = fig.add_axes(rect(103, 1113, 560, 1188))
axR.set_xlim(*XLIM)
axR.set_ylim(75, 0)
axR.axis('off')
axR.hlines(29, XLIM[0], XLIM[1], color=SPINE, lw=1.3)
axR.vlines(range(14), 0, 29, color=SPINE, lw=1.3)
axR.vlines(1, 0, 65, color='black', lw=1.6)
for i, lab in enumerate(month_labels):
    axR.text(i + 0.5, 15.5, lab, ha='center', va='center', fontsize=13.5, color='#1a1a1a')
fig.text(fx(137), fy(1168), year_labels[0], ha='right', va='baseline', fontsize=13.5, color='#1a1a1a')
fig.text(fx(164), fy(1168), year_labels[1], ha='left', va='baseline', fontsize=13.5, color='#1a1a1a')
fig.text(fx(503), fy(1183), 'Time', ha='center', va='baseline', fontsize=19, color='#111111')

# ---------------- axis labels & panel letters ----------------
for yc in (181, 583, 952):
    fig.text(fx(28), fy(yc), 'Temperature (°C)', rotation=90, ha='center', va='center',
             fontsize=21, color='#111111')
for lab, yc in (('A', 26), ('B', 424), ('C', 798)):
    fig.text(fx(27), fy(yc), lab, ha='center', va='center', fontsize=18, fontweight='bold')

# ---------------- Panel A annotations ----------------
fig.text(fx(450), fy(72), r'subdaily T$_{\mathbf{logger}}$', ha='left', va='baseline',
         fontsize=12.5, fontweight='bold', color=ANNO_GRAY)
fig.add_artist(FancyArrowPatch((fx(447), fy(66)), (fx(417), fy(74)),
               transform=fig.transFigure, arrowstyle='-|>', mutation_scale=11, lw=1.6,
               color=ANNO_GRAY))
fig.text(fx(468), fy(165), r'lunar daily T$_{\mathrm{logger}}$', ha='left', va='baseline',
         fontsize=12.5, color='#111111')
fig.add_artist(FancyArrowPatch((fx(463), fy(159)), (fx(435), fy(159)),
               transform=fig.transFigure, arrowstyle='-|>', mutation_scale=11, lw=1.4,
               color='black'))

# ---------------- Panel B legend ----------------
fig.add_artist(Line2D([fx(105), fx(142)], [fy(415)] * 2, color='black', lw=1.8, ls=(0, (1, 0.9))))
fig.add_artist(Line2D([fx(104), fx(142)], [fy(446)] * 2, color='black', lw=2.0))
fig.add_artist(Line2D([fx(104), fx(142)], [fy(483)] * 2, color=GRAY_LINE, lw=1.4))
fig.text(fx(147), fy(421), r'reconstructed lunar daily T$_{\mathrm{logger}}$', ha='left',
         va='baseline', fontsize=12, color='#111111')
fig.text(fx(147), fy(452), r'lunar daily T$_{\mathrm{logger}}$', ha='left', va='baseline',
         fontsize=12, color='#111111')
fig.text(fx(147), fy(490), 'Satellite data', ha='left', va='baseline', fontsize=12,
         color='#111111')
fig.text(fx(147), fy(511), r'(lunar daily T$_{\mathrm{NCEP}}$)', ha='left', va='baseline',
         fontsize=12, color='#111111')
bx = [380, 385, 385, 385, 385, 390, 385, 385, 385, 385, 380]
by = [400, 400, 406, 418, 424, 424, 424, 430, 442, 448, 448]
codes = [Path.MOVETO, Path.CURVE3, Path.CURVE3, Path.LINETO, Path.CURVE3, Path.CURVE3,
         Path.CURVE3, Path.CURVE3, Path.LINETO, Path.CURVE3, Path.CURVE3]
brace = Path([(fx(a), fy(b)) for a, b in zip(bx, by)], codes)
fig.add_artist(PathPatch(brace, transform=fig.transFigure, fill=False, lw=1.2, color='#111111'))
fig.text(fx(396), fy(433), r'T$_{\mathrm{mm}}$', ha='left', va='baseline', fontsize=12,
         color='#111111')

fig.text(fx(196), fy(700), r'$T_{logger} = 0.84 \cdot T_{NCEP} + 3.56$', ha='left',
         va='baseline', fontsize=15, math_fontfamily='stix', color='#222222')
fig.text(fx(173), fy(730), r'$R$ = 0.95; $R^2$ = 0.91, $p$ < 0.0001', ha='left',
         va='baseline', fontsize=12, color='#111111')

# ---------------- Panel C annotations & legend ----------------
fig.text(fx(419), fy(810), r'subdaily water T$_{\mathbf{logger}}$', ha='left', va='baseline',
         fontsize=13.5, fontweight='bold', color=ANNO_GRAY)
fig.add_artist(FancyArrowPatch((fx(414), fy(805)), (fx(385), fy(812)),
               transform=fig.transFigure, arrowstyle='-|>', mutation_scale=11, lw=1.6,
               color=ANNO_GRAY))
fig.add_artist(Line2D([fx(215), fx(252)], [fy(1055)] * 2, color='black', lw=2.0))
fig.add_artist(Line2D([fx(215), fx(252)], [fy(1086)] * 2, color='black', lw=1.8, ls=(0, (1, 0.9))))
fig.text(fx(257), fy(1061), r'T$_{\mathrm{mmi}}$ = lunar daily water T$_{\mathrm{logger}}$',
         ha='left', va='baseline', fontsize=12, color='#111111')
fig.text(fx(257), fy(1091), r'reconstructed daily T$_{\mathrm{logger}}$', ha='left',
         va='baseline', fontsize=12, color='#111111')

fig.savefig('out.png', dpi=100)
